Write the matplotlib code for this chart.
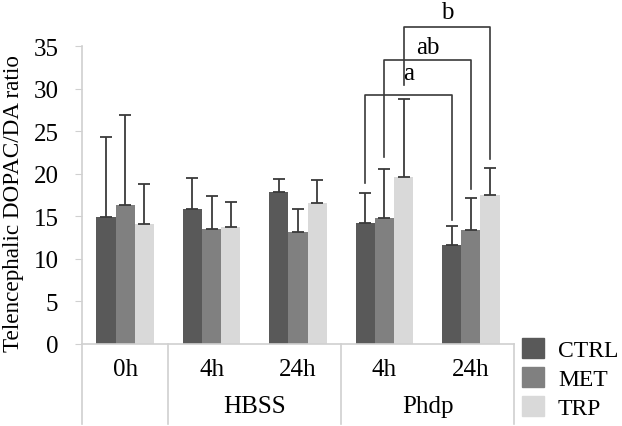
import matplotlib
matplotlib.use("Agg")
import matplotlib.pyplot as plt
import numpy as np

plt.rcParams['font.family'] = ['Liberation Serif', 'DejaVu Serif']

series = ["CTRL", "MET", "TRP"]
time_labels = ["0h", "4h", "24h", "4h", "24h"]
group_labels = ["", "HBSS", "Phdp"]
means = {
    "CTRL": [14.9, 15.85, 17.9, 14.2, 11.6],
    "MET":  [16.3, 13.5, 13.2, 14.75, 13.4],
    "TRP":  [14.1, 13.8, 16.6, 19.65, 17.5],
}
errors = {
    "CTRL": [9.4, 3.65, 1.5, 3.5, 2.3],
    "MET":  [10.6, 3.9, 2.6, 5.8, 3.8],
    "TRP":  [4.7, 2.9, 2.7, 9.1, 3.2],
}
colors = {"CTRL": "#595959", "MET": "#808080", "TRP": "#d9d9d9"}

FS = 18
W, H = 622, 427
fig = plt.figure(figsize=(W/100, H/100), dpi=100)
ax = fig.add_axes([82/W, (H-345)/H, (514-82)/W, (345-47)/H])

n = len(time_labels)
x = np.arange(n)
bw = 1/4.5
for i, s in enumerate(series):
    xs = x + (i-1)*bw
    ax.bar(xs, means[s], width=bw, color=colors[s], label=s, zorder=2)
    ax.errorbar(xs, means[s], yerr=[np.zeros(n), errors[s]], fmt='none',
                ecolor='#3a3a3a', elinewidth=1.3, capsize=4.5, capthick=1.3, zorder=3)

ax.set_xlim(-0.5, n-0.5)
ax.set_ylim(0, 35)
ax.set_yticks(range(0, 36, 5))
ax.tick_params(axis='y', labelsize=FS, length=5, color='#d0d0d0', pad=12)
ax.set_xticks([])
for sp in ['top', 'right']:
    ax.spines[sp].set_visible(False)
ax.spines['left'].set_color('#d0d0d0')
ax.spines['bottom'].set_color('#d0d0d0')
ax.spines['left'].set_linewidth(1.2)
ax.spines['bottom'].set_linewidth(1.2)
ax.set_ylabel("Telencephalic DOPAC/DA ratio", fontsize=16.7)
ax.yaxis.set_label_coords(-(82-24)/(514-82), 0.476)

# category axis
trans = ax.get_xaxis_transform()
def ypix(p):
    # pixel y (from top) -> axes fraction
    return (345 - p) / (345 - 47)
for b in [-0.5, 0.5, 2.5, 4.5]:
    ax.plot([b, b], [0, ypix(425)], transform=trans, color='#d0d0d0', lw=1.2, clip_on=False)
for i, t in enumerate(time_labels):
    ax.text(x[i], ypix(370), t, transform=trans, ha='center', va='center', fontsize=FS)
ax.text(1.5, ypix(407), group_labels[1], transform=trans, ha='center', va='center', fontsize=FS)
ax.text(3.5, ypix(407), group_labels[2], transform=trans, ha='center', va='center', fontsize=FS)

# significance brackets (Phdp 4h vs 24h per series)
def pix2data(p):
    return (345 - p) / (345 - 47) * 35
brackets = [("a", 0, 95.7, 184, 221, 74), ("ab", 1, 61, 158, 190, 47.7), ("b", 2, 28.3, 86, 160, 13)]
for lab, si, ytop, yl, yr, yt in brackets:
    x1 = 3 + (si-1)*bw
    x2 = 4 + (si-1)*bw
    ax.plot([x1, x1, x2, x2], [pix2data(yl), pix2data(ytop), pix2data(ytop), pix2data(yr)],
            color='#3a3a3a', lw=1.2, clip_on=False, zorder=4)
    ax.text((x1 + x2)/2 - 0.0, pix2data(yt), lab, ha='center', va='center', fontsize=FS)

# legend
handles = [plt.Rectangle((0, 0), 1, 1, color=colors[s]) for s in series]
fig.legend(handles, series, loc='upper left', bbox_to_anchor=(513/W, 1-330/H),
           frameon=False, fontsize=17, handlelength=0.9, handleheight=0.9,
           handletextpad=0.6, labelspacing=0.25, borderaxespad=0)

fig.savefig("out.png", dpi=100)
